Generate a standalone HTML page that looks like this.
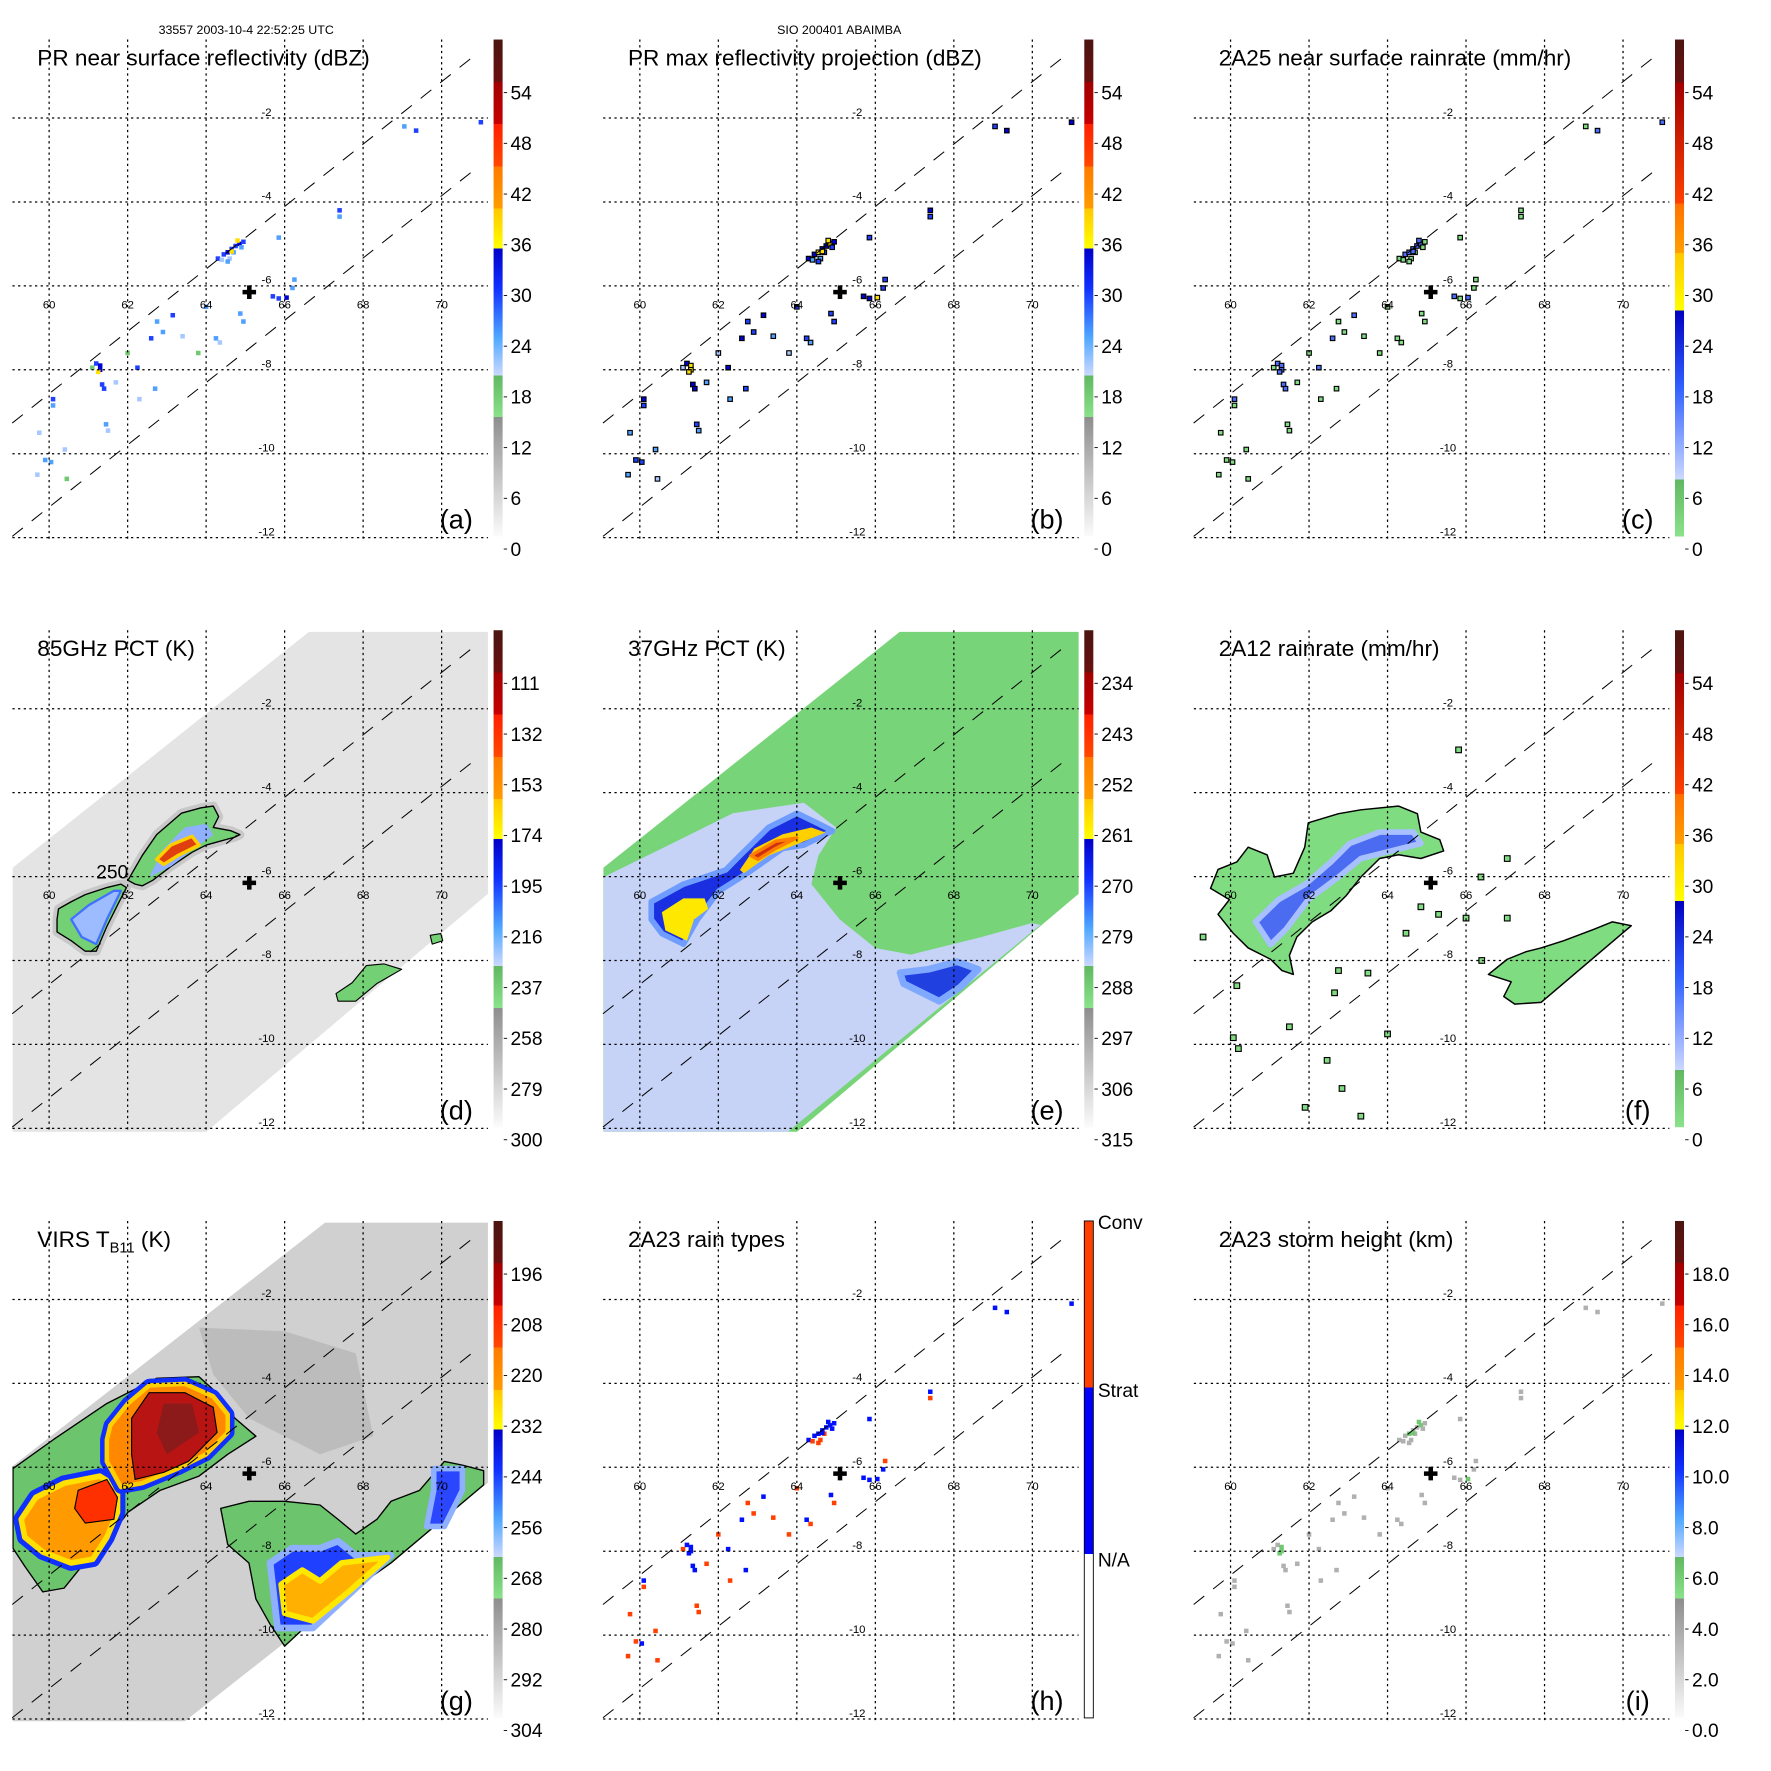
<!DOCTYPE html>
<html><head><meta charset="utf-8"><title>TRMM overpass panels</title>
<style>
html,body{margin:0;padding:0;background:#fff;}
svg{display:block;font-family:"Liberation Sans",Arial,sans-serif;}
</style></head>
<body>
<svg id="fig" xmlns="http://www.w3.org/2000/svg" width="1771" height="1771" viewBox="0 0 1568 1568">
<rect x="0" y="0" width="1568" height="1568" fill="#fff"/>
<text x="218" y="30" font-size="11" text-anchor="middle">33557 2003-10-4 22:52:25 UTC</text>
<text x="743" y="30" font-size="11" text-anchor="middle">SIO 200401 ABAIMBA</text>
</svg>
<script>
// ---------- data ----------
const lonTicks=[60,62,64,66,68,70];
const latTicks=[-2,-4,-6,-8,-10,-12];
const swathUpper=[[59.06,-9.27],[70.92,-0.45]];
const swathLower=[[59.06,-11.97],[70.92,-3.17]];
const stormCenter=[65.1,-6.15];
const tmiSwath=[[59.07,-5.79],[66.62,-0.17],[71.19,-0.17],[71.19,-6.4],[63.73,-12.3],[59.07,-12.3]];
const virsSwath=[[59.07,-5.97],[67.03,-0.17],[71.19,-0.17],[71.19,-6.36],[63.46,-12.05],[59.07,-12.05]];
// PR specks: lon, lat, dBZ
const prSpecks=[[64.3,-5.35,28],[64.45,-5.25,30],[64.55,-5.2,33],[64.65,-5.12,31],[64.75,-5.05,30],[64.85,-5.0,32],[64.95,-4.95,29],[64.9,-5.08,26],[64.7,-5.2,25],[64.6,-5.35,22],[64.4,-5.38,20],[64.55,-5.42,24],[64.8,-4.92,37],[64.65,-5.18,36],
[61.1,-7.95,18],[61.2,-7.85,30],[61.3,-7.9,32],[61.3,-8.0,33],[61.25,-8.05,37],[61.35,-8.35,31],[61.4,-8.45,30],[60.1,-8.7,30],[60.1,-8.85,25],
[65.7,-6.25,30],[65.85,-6.3,28],[66.05,-6.28,32],[66.2,-6.05,27],[66.25,-5.85,24],[65.85,-4.85,26],[64.87,-6.66,26],[64.95,-6.85,24],[64.35,-7.35,20],[64.25,-7.25,26],[63.15,-6.7,30],[62.75,-6.85,24],[62.6,-7.25,30],[62.25,-7.95,30],[62.7,-8.45,26],[61.45,-9.3,24],[61.5,-9.45,22],[59.9,-10.15,24],[60.05,-10.2,26],[59.75,-9.5,22],[59.7,-10.5,22],[60.4,-9.9,20],[62.9,-7.1,24],[63.4,-7.2,22],[64.0,-6.5,24],[67.4,-4.2,28],[67.4,-4.35,24],[69.05,-2.2,26],[69.35,-2.3,30],[71.0,-2.1,30],[62.0,-7.6,18],[63.8,-7.6,18],[62.3,-8.7,20],[61.7,-8.3,22],[60.45,-10.6,18]];
// 85 GHz
const d85Main=[[62.01,-6.09],[62.37,-5.5],[62.74,-5.0],[63.37,-4.49],[63.87,-4.36],[64.18,-4.32],[64.32,-4.57],[64.18,-4.83],[64.64,-4.91],[64.86,-5.0],[64.73,-5.06],[64.0,-5.25],[63.64,-5.42],[63.1,-5.76],[62.64,-6.09],[62.37,-6.22],[62.19,-6.18]];
const d85MainBlue=[[62.55,-6.01],[62.92,-5.33],[63.46,-4.83],[64.0,-4.74],[64.18,-5.0],[63.82,-5.25],[63.1,-5.76]];
const d85MainRed=[[62.74,-5.59],[63.1,-5.25],[63.64,-5.04],[63.82,-5.25],[63.28,-5.5],[62.92,-5.71]];
const d85West=[[60.24,-6.77],[60.56,-6.6],[60.92,-6.43],[61.47,-6.26],[61.83,-6.18],[61.97,-6.26],[61.74,-6.68],[61.47,-7.19],[61.2,-7.78],[60.92,-7.78],[60.56,-7.53],[60.2,-7.32],[60.2,-7.02]];
const d85WestBlue=[[60.56,-7.02],[61.01,-6.68],[61.65,-6.34],[61.83,-6.34],[61.47,-7.02],[61.2,-7.61],[60.83,-7.44]];
const d85SE=[[67.31,-8.79],[67.72,-8.53],[68.08,-8.12],[68.53,-8.08],[68.8,-8.16],[68.98,-8.21],[68.35,-8.55],[67.81,-8.97],[67.36,-8.97]];
const d85E=[[69.71,-7.4],[69.98,-7.36],[70.03,-7.53],[69.76,-7.61]];
// 37 GHz
const e37Light=[[59.08,-6.01],[60.56,-5.33],[62.37,-4.49],[64.18,-4.24],[65.0,-4.83],[64.55,-5.5],[64.37,-6.18],[65.09,-7.02],[66.0,-7.7],[66.9,-7.86],[68.71,-7.44],[69.98,-7.11],[70.21,-7.15],[63.71,-12.13],[59.08,-12.13]];
const e37Blue=[[60.29,-6.6],[61.11,-6.18],[62.19,-5.84],[62.55,-5.5],[63.28,-4.83],[64.0,-4.49],[64.55,-4.74],[64.91,-4.91],[64.18,-5.25],[63.64,-5.33],[62.74,-5.92],[62.01,-6.35],[61.47,-7.02],[61.11,-7.61],[60.56,-7.36],[60.29,-7.02]];
const e37Yellow=[[60.56,-6.85],[61.11,-6.52],[61.65,-6.52],[61.74,-6.77],[61.38,-7.02],[61.2,-7.53],[60.65,-7.28]];
const e37Core=[[62.55,-5.84],[62.92,-5.33],[63.64,-4.99],[64.37,-4.83],[64.73,-4.95],[64.18,-5.16],[63.28,-5.5],[62.65,-5.92]];
const e37Red=[[62.83,-5.5],[63.46,-5.16],[64.0,-5.08],[63.46,-5.33],[63.01,-5.59]];
const e37SE=[[66.63,-8.29],[67.35,-8.21],[68.08,-8.03],[68.62,-8.21],[68.17,-8.63],[67.63,-8.97],[67.26,-8.8],[66.72,-8.55]];
// 2A12
const f12Main=[[59.49,-6.28],[59.68,-5.83],[60.16,-5.65],[60.45,-5.3],[60.93,-5.48],[61.12,-6.01],[61.6,-5.92],[61.89,-5.3],[61.98,-4.72],[62.75,-4.5],[63.32,-4.41],[64.28,-4.32],[64.76,-4.5],[64.85,-4.94],[65.33,-5.12],[65.43,-5.39],[64.85,-5.57],[64.28,-5.48],[63.8,-5.57],[63.32,-6.01],[62.94,-6.46],[62.56,-6.81],[62.08,-7.08],[61.69,-7.44],[61.5,-7.88],[61.6,-8.33],[61.31,-8.24],[61.02,-7.97],[60.45,-7.7],[60.07,-7.35],[59.68,-6.9],[59.97,-6.55]];
const f12Blue=[[60.64,-7.08],[61.22,-6.55],[61.89,-6.19],[62.56,-5.65],[63.03,-5.21],[63.8,-4.94],[64.66,-4.94],[64.85,-5.21],[64.09,-5.39],[63.32,-5.57],[62.75,-6.01],[61.98,-6.55],[61.41,-7.26],[61.02,-7.62]];
const f12SE=[[66.57,-8.33],[67.05,-7.97],[67.53,-7.79],[67.91,-7.7],[68.49,-7.53],[69.25,-7.26],[69.73,-7.08],[70.21,-7.17],[67.91,-9.0],[67.24,-9.04],[66.96,-8.86],[67.15,-8.51]];
const f12Small=[[64.85,-6.72],[66.0,-6.99],[66.38,-6.01],[67.05,-6.99],[64.47,-7.35],[62.75,-8.24],[60.07,-9.84],[61.5,-9.58],[62.46,-10.38],[63.32,-11.71],[60.16,-8.6],[59.3,-7.44],[62.65,-8.77],[67.05,-5.57],[65.81,-2.98],[64.0,-9.75],[62.84,-11.05],[61.9,-11.5],[60.2,-10.1],[63.5,-8.3],[66.4,-8.0],[65.3,-6.9]];
// VIRS
const gGrayPatch=[[63.82,-2.67],[66.0,-2.76],[67.81,-3.28],[68.26,-5.26],[66.9,-5.69],[65.09,-4.83],[64.18,-3.79]];
const gNWOuter=[[59.08,-6.03],[60.11,-5.34],[61.47,-4.48],[62.74,-3.88],[63.82,-3.84],[64.37,-4.31],[64.73,-4.83],[65.27,-5.26],[64.55,-5.69],[63.82,-6.21],[62.83,-6.55],[62.01,-7.07],[61.74,-7.41],[61.47,-7.93],[60.83,-8.36],[60.38,-8.88],[59.84,-8.97],[59.38,-8.36],[59.08,-7.93]];
const gSWLobe=[[59.29,-7.24],[59.66,-6.72],[60.38,-6.38],[61.29,-6.21],[61.74,-6.47],[61.74,-7.07],[61.47,-7.67],[61.11,-8.19],[60.56,-8.28],[59.84,-8.02],[59.38,-7.67]];
const gNLobe=[[61.56,-5.0],[62.01,-4.48],[62.55,-4.05],[63.46,-4.01],[64.18,-4.31],[64.55,-4.74],[64.55,-5.17],[64.0,-5.69],[63.28,-6.03],[62.37,-6.38],[61.83,-6.47],[61.47,-5.86],[61.47,-5.34]];
const gNRed=[[62.1,-4.83],[62.55,-4.22],[63.46,-4.22],[64.18,-4.57],[64.28,-5.17],[63.55,-5.86],[62.92,-6.12],[62.19,-6.29],[62.1,-5.69]];
const gNCore=[[62.92,-4.48],[63.64,-4.48],[63.82,-5.17],[63.0,-5.69],[62.74,-5.17]];
const gSWRed=[[60.74,-6.55],[61.47,-6.29],[61.74,-6.72],[61.65,-7.24],[60.92,-7.33],[60.65,-6.98]];
const gSEOuter=[[64.37,-6.98],[65.09,-6.81],[66.0,-6.81],[66.9,-6.9],[67.36,-7.24],[67.81,-7.59],[68.35,-7.24],[68.71,-6.81],[69.44,-6.55],[70.07,-5.86],[70.53,-5.95],[71.07,-6.08],[71.07,-6.42],[68.71,-8.28],[66.9,-9.48],[66.0,-10.26],[65.63,-9.74],[65.27,-9.14],[65.09,-8.28],[64.55,-7.84]];
const gSEBlue=[[65.63,-8.28],[66.18,-7.93],[66.9,-7.93],[67.36,-7.76],[67.81,-8.1],[68.71,-8.1],[66.72,-9.83],[65.82,-9.83]];
const gSEWarm=[[65.91,-8.79],[66.45,-8.45],[66.9,-8.71],[67.45,-8.28],[68.26,-8.19],[68.62,-8.15],[67.63,-8.97],[66.72,-9.66],[66.0,-9.48]];
const gEBlue=[[69.8,-6.03],[70.53,-6.03],[70.53,-6.55],[70.07,-7.41],[69.62,-7.41],[69.8,-6.55]];
// colorbar labels
const cbLabels={
 a:['54','48','42','36','30','24','18','12','6','0'],
 b:['54','48','42','36','30','24','18','12','6','0'],
 c:['54','48','42','36','30','24','18','12','6','0'],
 d:['111','132','153','174','195','216','237','258','279','300'],
 e:['234','243','252','261','270','279','288','297','306','315'],
 f:['54','48','42','36','30','24','18','12','6','0'],
 g:['196','208','220','232','244','256','268','280','292','304'],
 i:['18.0','16.0','14.0','12.0','10.0','8.0','6.0','4.0','2.0','0.0']};
const hLabels=['Conv','Strat','N/A'];

// ---------- drawing ----------
const NS='http://www.w3.org/2000/svg';
const svg=document.getElementById('fig');
function mk(tag,attrs,parent){const e=document.createElementNS(NS,tag);for(const k in attrs)e.setAttribute(k,attrs[k]);(parent||svg).appendChild(e);return e;}
const panels=[
 {id:'a',c:0,r:0,title:'PR near surface reflectivity (dBZ)',cb:'A'},
 {id:'b',c:1,r:0,title:'PR max reflectivity projection (dBZ)',cb:'A'},
 {id:'c',c:2,r:0,title:'2A25 near surface rainrate (mm/hr)',cb:'C'},
 {id:'d',c:0,r:1,title:'85GHz PCT (K)',cb:'A'},
 {id:'e',c:1,r:1,title:'37GHz PCT (K)',cb:'A'},
 {id:'f',c:2,r:1,title:'2A12 rainrate (mm/hr)',cb:'C'},
 {id:'g',c:0,r:2,title:'VIRS',cb:'A'},
 {id:'h',c:1,r:2,title:'2A23 rain types',cb:'H'},
 {id:'i',c:2,r:2,title:'2A23 storm height (km)',cb:'A'}];
panels.forEach(p=>{p.ox=p.c*523;p.oy=p.r*523;});
function X(p,lon){return p.ox+43.5+(lon-60)*34.75;}
function Y(p,lat){return p.oy+104.5+(-2-lat)*37.15;}
function pts(p,arr){return arr.map(q=>X(p,q[0]).toFixed(1)+','+Y(p,q[1]).toFixed(1)).join(' ');}

const defs=mk('defs',{});
function grad(id,stops){const g=mk('linearGradient',{id:id,x1:0,y1:0,x2:0,y2:1},defs);stops.forEach(s=>mk('stop',{offset:s[0],'stop-color':s[1]},g));}
grad('cbA',[[0,'#4a1510'],[0.085,'#6a1010'],[0.085,'#a00000'],[0.17,'#c80000'],[0.17,'#ff2000'],[0.255,'#ff4800'],[0.255,'#ff7a00'],[0.34,'#ff9c00'],[0.34,'#ffc800'],[0.42,'#ffff00'],[0.42,'#0000c8'],[0.5,'#1030ff'],[0.6,'#50a8ff'],[0.676,'#ccd8ff'],[0.676,'#62b862'],[0.76,'#8ae28a'],[0.76,'#8e8e8e'],[1,'#fbfbfb']]);
grad('cbC',[[0,'#4a1510'],[0.086,'#6a1010'],[0.086,'#a00000'],[0.33,'#ff4000'],[0.33,'#ff7000'],[0.43,'#ffa000'],[0.43,'#ffc800'],[0.545,'#ffff00'],[0.545,'#0000c0'],[0.7,'#3060ff'],[0.885,'#ccd8ff'],[0.885,'#62b862'],[1,'#8ae28a']]);
grad('cbH',[[0,'#ff4000'],[0.335,'#ff4000'],[0.335,'#0000ff'],[0.67,'#0000ff'],[0.67,'#ffffff'],[1,'#ffffff']]);

function dbzColor(v){if(v<15)return '#a0a0a0';if(v<20)return '#70c870';if(v<24)return '#a8c8ff';if(v<28)return '#50a0ff';if(v<32)return '#2040ff';if(v<36)return '#0000d0';if(v<42)return '#ffe000';if(v<48)return '#ff8000';return '#e00000';}

function poly(p,arr,fill,stroke,sw,name,g){
 const e=mk('polygon',{points:pts(p,arr),fill:fill,stroke:stroke||'none','stroke-width':sw||0,'stroke-linejoin':'round'},g);
 
 
 return e;}

panels.forEach(p=>{
 const ox=p.ox,oy=p.oy;
 const grp=mk('g',{});
 
 
 const cp=mk('clipPath',{id:'clip-'+p.id},defs);
 mk('rect',{x:ox+11,y:oy+35,width:421,height:444},cp);
 const plot=mk('g',{'clip-path':'url(#clip-'+p.id+')'},grp);
 
 

 if(p.id==='d'){
  poly(p,tmiSwath,'#e4e4e4','none',0,'tmi-swath',plot);
  poly(p,d85Main,'#b8b8b8','#c8c8c8',8,'shadow-main',plot);
  poly(p,d85West,'#b8b8b8','#c8c8c8',8,'shadow-west',plot);
  poly(p,d85Main,'#74d074','#000',1.2,'pct85-main-blob',plot);
  poly(p,d85MainBlue,'#8fb0ff','none',0,'pct85-main-blue',plot);
  poly(p,d85MainRed,'#e04010','#ffd000',3,'pct85-main-core',plot);
  poly(p,d85West,'#74d074','#000',1.2,'pct85-west-blob',plot);
  poly(p,d85WestBlue,'#9cbcff','#4070ff',2,'pct85-west-blue',plot);
  poly(p,d85SE,'#74d074','#000',1,'pct85-se-blob',plot);
  poly(p,d85E,'#74d074','#000',1,'pct85-east-blob',plot);
  const t=mk('text',{x:X(p,61.2),y:Y(p,-6.05),'font-size':17},plot);t.textContent='250';
  
  
 }
 if(p.id==='e'){
  poly(p,tmiSwath,'#78d478','none',0,'tmi-swath',plot);
  poly(p,e37Light,'#c6d2f6','none',0,'pct37-light-region',plot);
  poly(p,e37Blue,'#1a30e0','#6f9cff',5,'pct37-blue-band',plot);
  poly(p,e37Yellow,'#ffe800','none',0,'pct37-yellow-west',plot);
  poly(p,e37Core,'#ffd000','none',0,'pct37-core',plot);
  poly(p,e37Red,'#d03010','#ff8000',3,'pct37-red-core',plot);
  poly(p,e37SE,'#2040e0','#7fa8ff',6,'pct37-se-blob',plot);
 }
 if(p.id==='f'){
  poly(p,f12Main,'#80dc80','#000',1.3,'rain2a12-main-blob',plot);
  poly(p,f12Blue,'#4b6cf0','#a8c0ff',5,'rain2a12-blue-band',plot);
  poly(p,f12SE,'#80dc80','#000',1.3,'rain2a12-se-blob',plot);
  f12Small.forEach((q,i)=>{const r=mk('rect',{x:X(p,q[0])-2.5,y:Y(p,q[1])-2.5,width:5,height:5,fill:'#80dc80',stroke:'#000','stroke-width':1},plot);
   
   });
 }
 if(p.id==='g'){
  poly(p,virsSwath,'#d0d0d0','none',0,'virs-swath',plot);
  poly(p,gGrayPatch,'#bcbcbc','none',0,'virs-cloud-patch',plot);
  poly(p,gNWOuter,'#6cc46c','#000',1.2,'virs-nw-outer',plot);
  poly(p,gSWLobe,'#ff9a00','#1030ff',14,'virs-sw-lobe',plot);
  poly(p,gSWLobe,'#ff9a00','#ffe000',5,'virs-sw-lobe-inner',plot);
  poly(p,gNLobe,'#ff8800','#1030ff',12,'virs-n-lobe',plot);
  poly(p,gNLobe,'#ff8800','#ffd000',4,'virs-n-lobe-inner',plot);
  poly(p,gNRed,'#b81414','#000',1,'virs-n-red',plot);
  poly(p,gNCore,'#8c1a1a','none',0,'virs-n-core',plot);
  poly(p,gSWRed,'#ff3000','#000',1,'virs-sw-red',plot);
  poly(p,gSEOuter,'#6cc46c','#000',1.2,'virs-se-outer',plot);
  poly(p,gSEBlue,'#2040ff','#8fb0ff',6,'virs-se-blue',plot);
  poly(p,gSEWarm,'#ffb000','#ffe800',5,'virs-se-warm',plot);
  poly(p,gEBlue,'#2a46ff','#8fb0ff',5,'virs-east-blue',plot);
 }
 if(['a','b','c','h','i'].includes(p.id)){
  prSpecks.forEach(q=>{
   let col=dbzColor(q[2]),st='none',sz=4;
   if(p.id==='b'){col=dbzColor(q[2]+4);st='#000';}
   if(p.id==='c'){col=q[2]>=30?'#4a6cff':'#80dc80';st='#000';}
   if(p.id==='h'){col=q[2]>=26?'#0010ff':'#ff4000';}
   if(p.id==='i'){col=q[2]>=32?'#70c870':'#b0b0b0';}
   const r=mk('rect',{x:X(p,q[0])-sz/2,y:Y(p,q[1])-sz/2,width:sz,height:sz,fill:col,stroke:st,'stroke-width':st==='none'?0:1},plot);
   
   });
 }

 lonTicks.forEach(lon=>{const l=mk('line',{x1:X(p,lon),x2:X(p,lon),y1:oy+35,y2:oy+480,stroke:'#000','stroke-width':1.1,'stroke-dasharray':'2,3'},grp);
  
  
  const t=mk('text',{x:X(p,lon),y:oy+273,'font-size':10,'text-anchor':'middle'},grp);t.textContent=String(lon);
  
  });
 latTicks.forEach(lat=>{const l=mk('line',{x1:ox+11,x2:ox+432,y1:Y(p,lat),y2:Y(p,lat),stroke:'#000','stroke-width':1.1,'stroke-dasharray':'2,3'},grp);
  
  
  const t=mk('text',{x:ox+236,y:Y(p,lat)-2,'font-size':10,'text-anchor':'middle'},grp);t.textContent=String(lat);
  
  });
 [swathUpper,swathLower].forEach(s=>{const l=mk('line',{x1:X(p,s[0][0]),y1:Y(p,s[0][1]),x2:X(p,s[1][0]),y2:Y(p,s[1][1]),stroke:'#000','stroke-width':0.9,'stroke-dasharray':'12,10'},grp);
  
  });
 const cx=X(p,stormCenter[0]),cy=Y(p,stormCenter[1]);
 const cr=mk('path',{d:`M${cx-6} ${cy-2}h4v-4h4v4h4v4h-4v4h-4v-4h-4z`,fill:'#000'},grp);
 
 

 const tt=mk('text',{x:ox+33,y:oy+58,'font-size':20},grp);
 if(p.id==='g'){tt.textContent='VIRS T';const s=mk('tspan',{'font-size':13,dy:5},tt);s.textContent='B11';const s2=mk('tspan',{dy:-5},tt);s2.textContent=' (K)';}
 else tt.textContent=p.title;
 
 
 const lt=mk('text',{x:ox+404,y:oy+468,'font-size':24,'text-anchor':'middle'},grp);lt.textContent='('+p.id+')';
 
 

 const bar=mk('rect',{x:ox+437,y:oy+35,width:8,height:440,fill:'url(#cb'+p.cb+')',stroke:p.cb==='H'?'#000':'none','stroke-width':0.8},grp);
 
 
 if(p.cb==='H'){
  [1083,1232,1382].forEach((yy,i)=>{const t=mk('text',{x:ox+449,y:yy-1046+oy+5,'font-size':17},grp);t.textContent=hLabels[i];
   
   });
 } else {
  cbLabels[p.id].forEach((lab,i)=>{const yy=oy+82+i*44.9;
   const tk=mk('line',{x1:ox+446,x2:ox+449,y1:yy,y2:yy,stroke:'#000','stroke-width':0.8},grp);
   
   
   const t=mk('text',{x:ox+452,y:yy+6,'font-size':17},grp);t.textContent=lab;
   
   });
 }
});
</script>
</body></html>
